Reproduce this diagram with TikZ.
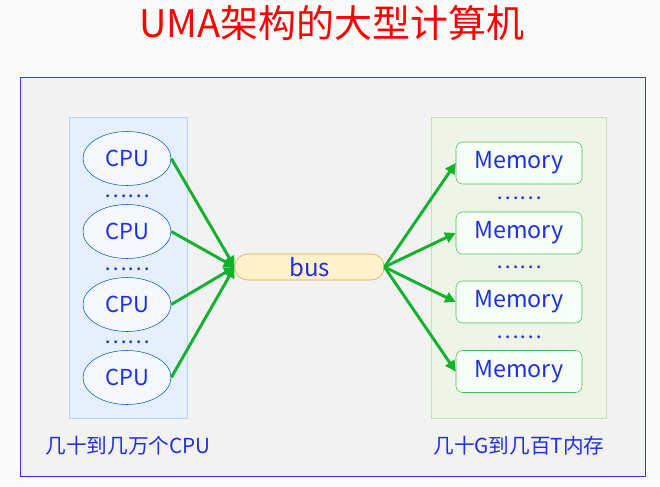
\documentclass[tikz,border=0pt]{standalone}
\usepackage{fontspec}
\setmainfont{Noto Sans CJK SC}
\usepackage{tikz}
\usetikzlibrary{arrows.meta,positioning,shapes.geometric}
\definecolor{txtblue}{HTML}{1F2FE6}
\definecolor{linkgreen}{HTML}{12B12E}

\begin{document}
\begin{tikzpicture}[
  x=0.75pt, y=-0.75pt,
  font=\fontsize{16.5}{19}\selectfont,
  panel/.style={draw, anchor=north west, inner sep=0pt},
  cpu/.style={ellipse, draw=HTML-cpu, fill=HTML-cpufill, minimum width=66pt, minimum height=40.5pt, inner sep=0pt, text=txtblue},
  mem/.style={draw=HTML-mem, fill=HTML-memfill, rounded corners=5pt, minimum width=94.5pt, minimum height=31.5pt, inner sep=0pt, text=txtblue, font=\fontsize{17.5}{20}\selectfont},
  dots/.style={text=txtblue, font=\fontsize{16}{18}\selectfont},
  link/.style={draw=linkgreen, line width=2.2pt, -{Triangle[length=8pt,width=8pt]}},
  note/.style={text=txtblue, font=\fontsize{15.5}{18}\selectfont}
]
\colorlet{HTML-cpu}{blue!55!cyan!75!black}
\definecolor{HTML-cpufill}{HTML}{F5F9FF}
\definecolor{HTML-mem}{HTML}{3DBE4E}
\definecolor{HTML-memfill}{HTML}{F8FFF8}
\useasboundingbox[fill=gray!4] (0,0) rectangle (660,486);
% title
\node[text=red, font=\fontsize{28.5}{34}\selectfont] (title) at (332,23) {UMA架构的大型计算机};
% frame
\node[panel, draw={rgb,255:red,51;green,51;blue,255}, line width=0.9pt, fill=gray!10, minimum width=469pt, minimum height=299pt] (frame) at (19.5,77) {};
% left panel: CPUs
\node[panel, draw={rgb,255:red,185;green,211;blue,238}, line width=0.8pt, fill={rgb,255:red,230;green,240;blue,252}, minimum width=88.5pt, minimum height=226pt] (cpupanel) at (69,116.5) {};
\foreach \i/\y in {1/158.5,2/231.5,3/304.5,4/377.5} {\node[cpu] (cpu\i) at (127,\y) {CPU};}
\foreach \y in {196,269,342} {\node[dots] at (127,\y) {……};}
\node[note] (cpunote) at (128,446) {几十到几万个CPU};
% bus
\node[draw={rgb,255:red,214;green,169;blue,51}, fill={rgb,255:red,255;green,242;blue,204}, rounded corners=9.5pt, minimum width=112pt, minimum height=19.5pt, inner sep=0pt, text=txtblue, font=\fontsize{18}{21}\selectfont] (bus) at (309.5,267) {bus};
% right panel: memories
\node[panel, draw={rgb,255:red,197;green,224;blue,180}, line width=0.8pt, fill={rgb,255:red,238;green,245;blue,232}, minimum width=131.5pt, minimum height=226pt] (mempanel) at (430.5,116.5) {};
\foreach \i/\y in {1/163,2/233,3/302,4/371.5} {\node[mem] (mem\i) at (519,\y) {Memory};}
\foreach \y in {198,267.5,337} {\node[dots] at (519,\y) {……};}
\node[note] (memnote) at (519,446) {几十G到几百T内存};
% links
\foreach \i in {1,...,4} {
  \draw[link] (cpu\i.east) -- (bus.west);
  \draw[link] (bus.east) -- (mem\i.west);
}
\end{tikzpicture}
\end{document}
